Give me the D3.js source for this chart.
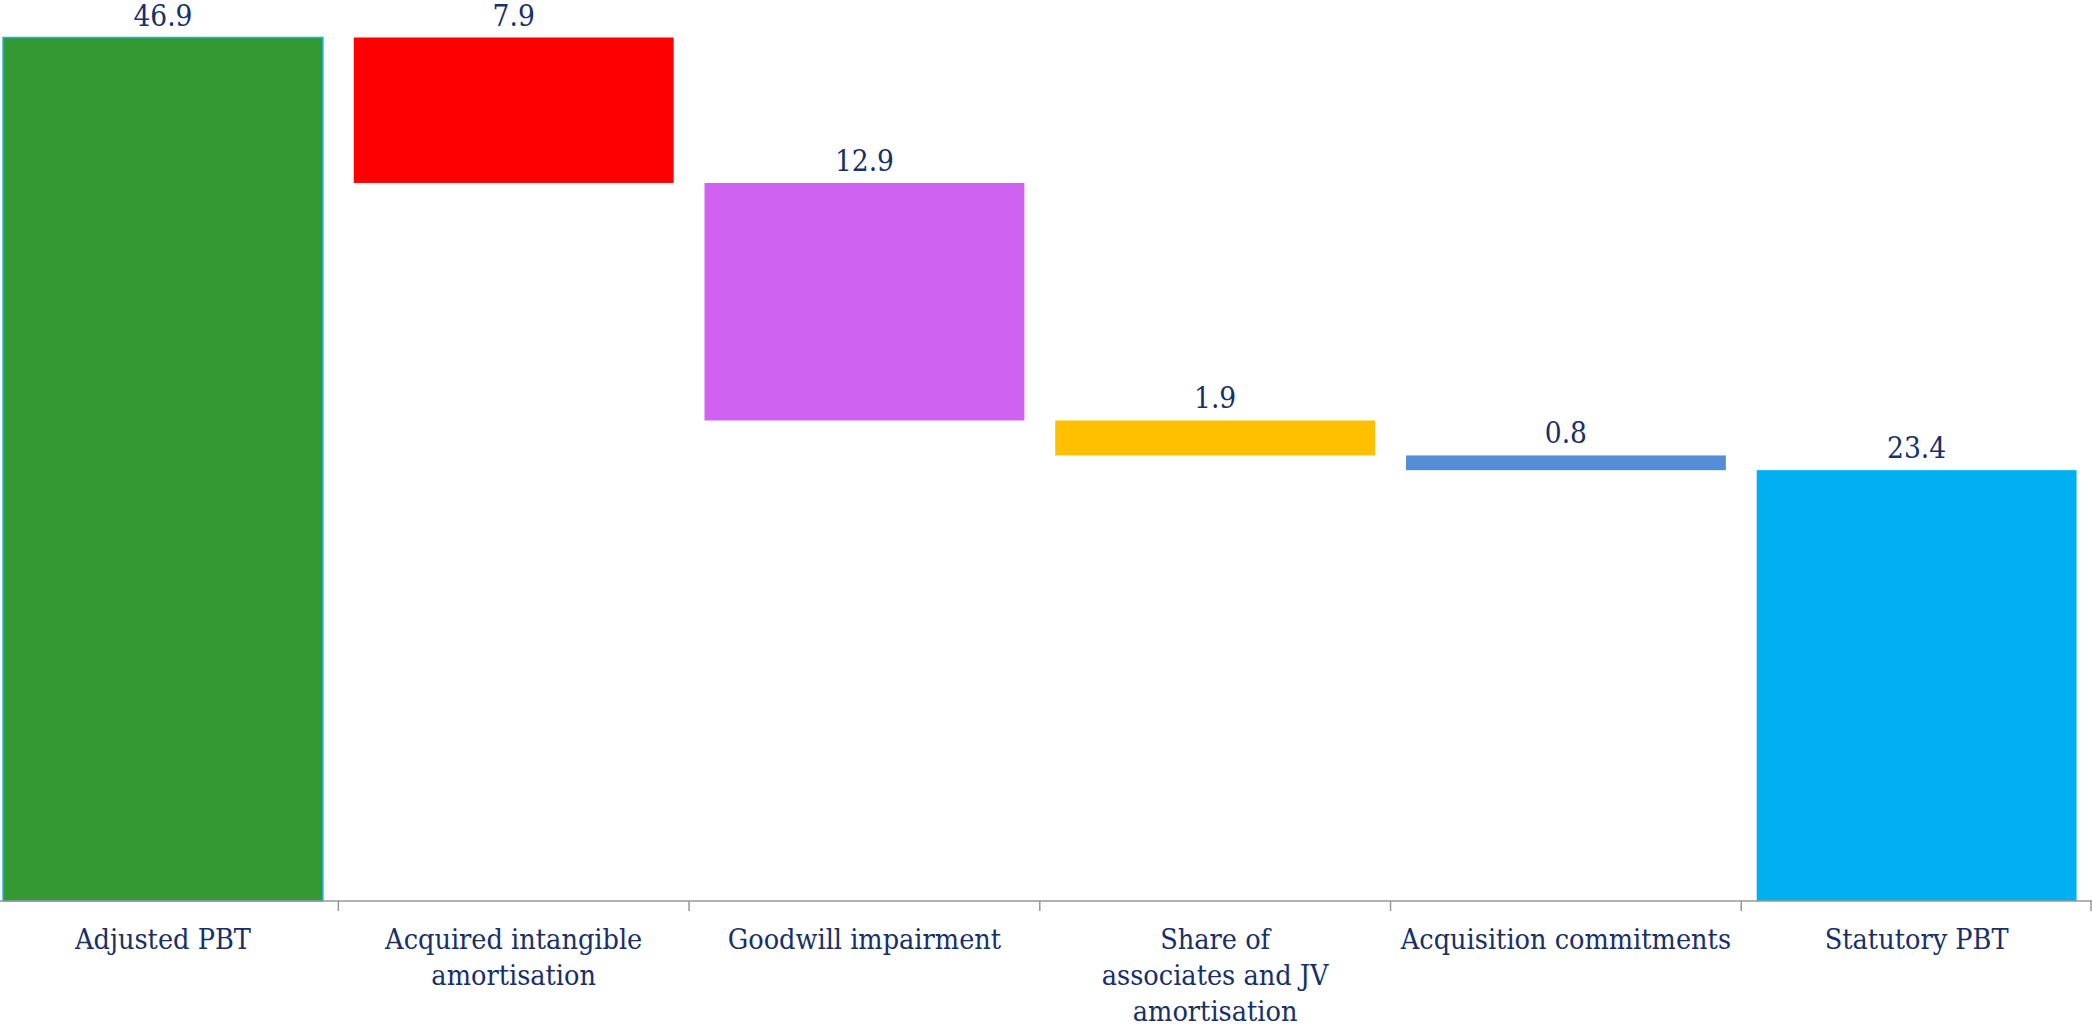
<!DOCTYPE html>
<html>
<head>
<meta charset="utf-8">
<script src="https://cdn.jsdelivr.net/npm/d3@7"></script>
<style>
  html, body { margin: 0; padding: 0; background: #ffffff; }
  svg { display: block; }
</style>
</head>
<body>
<svg id="chart" width="2092" height="1027"></svg>
<script>
// ---- data ----
const categories = [
  "Adjusted PBT",
  "Acquired intangible amortisation",
  "Goodwill impairment",
  "Share of associates and JV amortisation",
  "Acquisition commitments",
  "Statutory PBT"
];
const categoryLines = [
  ["Adjusted PBT"],
  ["Acquired intangible", "amortisation"],
  ["Goodwill impairment"],
  ["Share of", "associates and JV", "amortisation"],
  ["Acquisition commitments"],
  ["Statutory PBT"]
];
const values = [46.9, -7.9, -12.9, -1.9, -0.8, 23.4];
const isTotal = [true, false, false, false, false, true];
const barColors = ["#339933", "#ff0000", "#d062f2", "#ffc000", "#558ed5", "#00b0f0"];

// ---- waterfall computation ----
let running = 0;
const bars = categories.map((c, i) => {
  const v = values[i];
  let lo, hi;
  if (isTotal[i]) { lo = 0; hi = v; running = v; }
  else { const end = running + v; lo = Math.min(running, end); hi = Math.max(running, end); running = end; }
  return { cat: c, lines: categoryLines[i], value: v, lo, hi, color: barColors[i], i };
});

// ---- layout ----
const W = 2092, H = 1027;
const axisY = 901;
const FONT = "DejaVu Serif Condensed";
const TXT = "#17306a";
const svg = d3.select("#chart");

const x = d3.scaleBand()
  .domain(categories)
  .range([-12.4, W])
  .paddingInner(0.088)
  .paddingOuter(0.044);

const y = d3.scaleLinear()
  .domain([0, 46.9])
  .range([axisY, 37.5]);

// bars
svg.append("g").selectAll("rect")
  .data(bars)
  .join("rect")
  .attr("x", d => x(d.cat))
  .attr("width", x.bandwidth())
  .attr("y", d => y(d.hi))
  .attr("height", d => y(d.lo) - y(d.hi))
  .attr("fill", d => d.color)
  .attr("stroke", d => d.i === 0 ? "#1ab4ea" : "none")
  .attr("stroke-width", d => d.i === 0 ? 1.5 : 0);

// value labels
svg.append("g").selectAll("text")
  .data(bars)
  .join("text")
  .attr("x", d => x(d.cat) + x.bandwidth() / 2)
  .attr("y", d => y(d.hi) - 12)
  .attr("text-anchor", "middle")
  .style("font-family", FONT)
  .attr("font-size", 29.5)
  .attr("fill", TXT)
  .text(d => Math.abs(d.value).toFixed(1));

// axis line and ticks at band boundaries
const step = x.step();
const gap = step * x.paddingInner();
const boundaries = categories.map(c => x(c) + x.bandwidth() + gap / 2);
const axisG = svg.append("g");
axisG.append("line")
  .attr("x1", 0).attr("x2", W)
  .attr("y1", axisY).attr("y2", axisY)
  .attr("stroke", "#979797").attr("stroke-width", 1.5);
axisG.selectAll("line.tick")
  .data(boundaries)
  .join("line")
  .attr("class", "tick")
  .attr("x1", d => Math.min(d, W - 1)).attr("x2", d => Math.min(d, W - 1))
  .attr("y1", axisY).attr("y2", axisY + 10)
  .attr("stroke", "#979797").attr("stroke-width", 1.5);

// category labels
const lab = svg.append("g").selectAll("text")
  .data(bars)
  .join("text")
  .attr("x", d => x(d.cat) + x.bandwidth() / 2)
  .attr("y", 949)
  .attr("text-anchor", "middle")
  .style("font-family", FONT)
  .attr("font-size", 28.5)
  .attr("fill", TXT);
lab.each(function(d) {
  const t = d3.select(this);
  d.lines.forEach((ln, k) => {
    t.append("tspan")
      .attr("x", x(d.cat) + x.bandwidth() / 2)
      .attr("dy", k === 0 ? 0 : 36)
      .text(ln);
  });
});
</script>
</body>
</html>
